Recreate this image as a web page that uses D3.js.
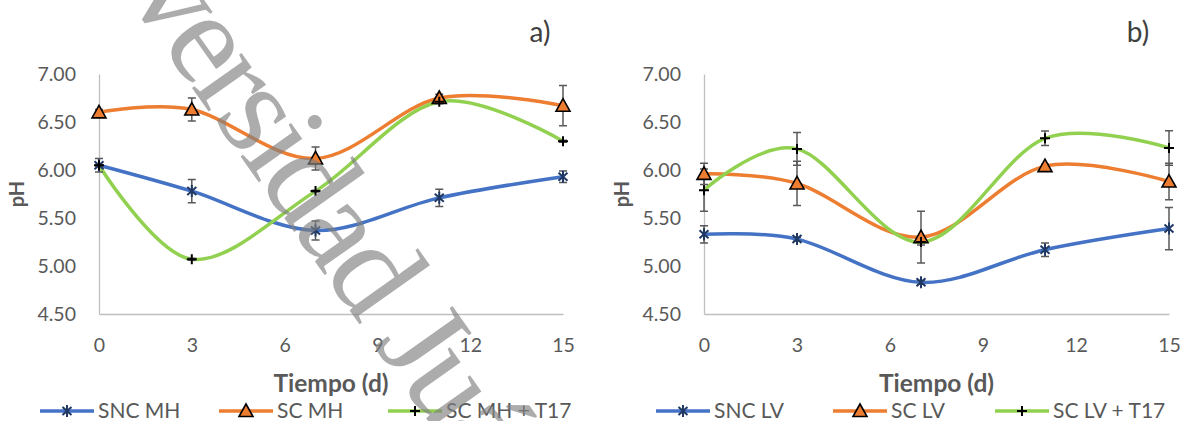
<!DOCTYPE html>
<html>
<head>
<meta charset="utf-8">
<script src="https://cdn.jsdelivr.net/npm/d3@7"></script>
<style>
  body { margin: 0; background: #fff; }
  svg { display: block; font-family: Lato, "Open Sans", sans-serif; }
</style>
</head>
<body>
<div id="chart"></div>
<script>
// sampling days and axis ticks
const days = [0, 3, 7, 11, 15];
const xTicks = [0, 3, 6, 9, 12, 15];
const yTicks = [4.5, 5.0, 5.5, 6.0, 6.5, 7.0];

// panel a) - MH
const sncMH = [6.05, 5.78, 5.37, 5.71, 5.93];
const sncMHErr = [0.07, 0.12, 0.10, 0.09, 0.06];
const scMH = [6.60, 6.63, 6.12, 6.75, 6.67];
const scMHErr = [0.03, 0.12, 0.12, 0.04, 0.21];
const scMHT17 = [6.05, 5.07, 5.78, 6.71, 6.30];
const scMHT17Err = [0.01, 0.01, 0.01, 0.02, 0.01];

// panel b) - LV
const sncLV = [5.33, 5.28, 4.83, 5.17, 5.39];
const sncLVErr = [0.09, 0.02, 0.02, 0.07, 0.22];
const scLV = [5.96, 5.86, 5.30, 6.04, 5.88];
const scLVErr = [0.11, 0.23, 0.27, 0.02, 0.19];
const scLVT17 = [5.79, 6.22, 5.25, 6.33, 6.23];
const scLVT17Err = [0.22, 0.17, 0.03, 0.075, 0.18];

const W = 1183, H = 421;
const svg = d3.select("#chart").append("svg")
    .attr("width", W)
    .attr("height", H);

const y = d3.scaleLinear().domain([4.5, 7]).range([314, 74]);

const colors = {snc: "#4472C4", sc: "#ED7D31", t17: "#92D050"};

const markerPaths = {
  star: "M0,-6V6M-4.5,-4L4.5,4M-4.5,4L4.5,-4",
  tri: "M0,-7L7,5.5L-7,5.5Z",
  plus: "M0,-5V5M-5,0H5"
};

function drawMarker(g, type, x, yy) {
  const p = g.append("path")
      .attr("d", markerPaths[type])
      .attr("transform", `translate(${x},${yy})`);
  if (type === "star") p.attr("fill", "none").attr("stroke", "#1F3864").attr("stroke-width", 2);
  if (type === "tri") p.attr("fill", colors.sc).attr("stroke", "#000").attr("stroke-width", 1.6);
  if (type === "plus") p.attr("fill", "none").attr("stroke", "#000").attr("stroke-width", 2);
}

function drawPanel(cfg) {
  const x = d3.scaleLinear().domain([0, 15]).range([cfg.x0, cfg.x1]);
  const g = svg.append("g");

  // axes
  const ax = g.append("g")
      .attr("transform", `translate(${cfg.x0},0)`)
      .call(d3.axisLeft(y).tickValues(yTicks).tickFormat(d3.format(".2f"))
          .tickSize(0).tickPadding(23));
  const bx = g.append("g")
      .attr("transform", "translate(0,314)")
      .call(d3.axisBottom(x).tickValues(xTicks).tickSize(0).tickPadding(24));
  [ax, bx].forEach(a => {
    a.select(".domain").attr("stroke", "#BFBFBF").attr("stroke-width", 1.3);
    a.selectAll("text").attr("fill", "#595959").style("font-size", "19.5px")
        .style("font-family", "Lato, sans-serif");
  });

  // axis titles
  g.append("text")
      .attr("transform", `translate(${cfg.x0 - 75},${(y(7) + y(4.5)) / 2}) rotate(-90)`)
      .attr("text-anchor", "middle")
      .attr("fill", "#595959")
      .style("font-size", "20px").style("font-weight", "bold")
      .text("pH");
  g.append("text")
      .attr("x", (cfg.x0 + cfg.x1) / 2)
      .attr("y", 392)
      .attr("text-anchor", "middle")
      .attr("fill", "#595959")
      .style("font-size", "24.5px").style("font-weight", "bold")
      .text("Tiempo (d)");
  g.append("text")
      .attr("x", cfg.labelX)
      .attr("y", 42)
      .attr("text-anchor", "middle")
      .attr("fill", "#404040")
      .style("font-size", "28px")
      .text(cfg.label);

  const line = d3.line()
      .x((d, i) => x(days[i]))
      .y(d => y(d))
      .curve(d3.curveCardinal.tension(0));

  cfg.series.forEach(s => {
    g.append("path")
        .attr("d", line(s.values))
        .attr("fill", "none")
        .attr("stroke", s.color)
        .attr("stroke-width", 3.5)
        .attr("stroke-linecap", "round");
  });

  // error bars
  cfg.series.forEach(s => {
    s.values.forEach((v, i) => {
      const cx = x(days[i]), y1 = y(v - s.err[i]), y2 = y(v + s.err[i]);
      g.append("path")
          .attr("d", `M${cx},${y1}V${y2}M${cx - 4},${y1}H${cx + 4}M${cx - 4},${y2}H${cx + 4}`)
          .attr("fill", "none")
          .attr("stroke", "#595959")
          .attr("stroke-width", 1.5);
    });
  });

  // markers
  cfg.series.forEach(s => {
    s.values.forEach((v, i) => drawMarker(g, s.marker, x(days[i]), y(v)));
  });

  // legend
  cfg.series.forEach((s, i) => {
    const lx = cfg.legendX[i];
    g.append("line")
        .attr("x1", lx).attr("x2", lx + 54)
        .attr("y1", 411).attr("y2", 411)
        .attr("stroke", s.color).attr("stroke-width", 3.5);
    drawMarker(g, s.marker, lx + 27, 411);
    g.append("text")
        .attr("x", lx + 58)
        .attr("y", 418)
        .attr("fill", "#595959")
        .style("font-size", "21px")
        .text(s.name);
  });
}

drawPanel({
  x0: 99, x1: 563, label: "a)", labelX: 540,
  legendX: [40, 219, 388],
  series: [
    {name: "SNC MH", values: sncMH, err: sncMHErr, color: colors.snc, marker: "star"},
    {name: "SC MH", values: scMH, err: scMHErr, color: colors.sc, marker: "tri"},
    {name: "SC MH + T17", values: scMHT17, err: scMHT17Err, color: colors.t17, marker: "plus"}
  ]
});

drawPanel({
  x0: 704, x1: 1169, label: "b)", labelX: 1138,
  legendX: [656, 833, 995],
  series: [
    {name: "SNC LV", values: sncLV, err: sncLVErr, color: colors.snc, marker: "star"},
    {name: "SC LV", values: scLV, err: scLVErr, color: colors.sc, marker: "tri"},
    {name: "SC LV + T17", values: scLVT17, err: scLVT17Err, color: colors.t17, marker: "plus"}
  ]
});

// watermark running diagonally across panel a): serif letters, spacing fitted
// so the "e" and the "J" land where they sit in the source image
const wm = svg.append("text")
    .attr("fill", "#7F7F7F")
    .attr("fill-opacity", 0.65)
    .style("font-family", "'Liberation Serif', serif")
    .style("font-size", "100px")
    .text("Universidad Juárez");
const node = wm.node();
const nE = node.getSubStringLength(0, 4) + node.getSubStringLength(4, 1) / 2;
const nJ = node.getSubStringLength(0, 12) + node.getSubStringLength(12, 1) / 2;
const pE = [207, 45], pJ = [418, 343];
const fs = 132;
const dist = Math.hypot(pJ[0] - pE[0], pJ[1] - pE[1]);
const ls = (dist - (nJ - nE) * fs / 100) / 8;
const rad = Math.atan2(pJ[1] - pE[1], pJ[0] - pE[0]);
const along = nE * fs / 100 + 4 * ls;
const up = -0.28 * fs;
const tx = pE[0] - (along * Math.cos(rad) - up * Math.sin(rad));
const ty = pE[1] - (along * Math.sin(rad) + up * Math.cos(rad));
wm.style("font-size", fs + "px")
    .style("letter-spacing", ls + "px")
    .attr("transform", `translate(${tx},${ty}) rotate(${rad * 180 / Math.PI})`);
</script>
</body>
</html>
